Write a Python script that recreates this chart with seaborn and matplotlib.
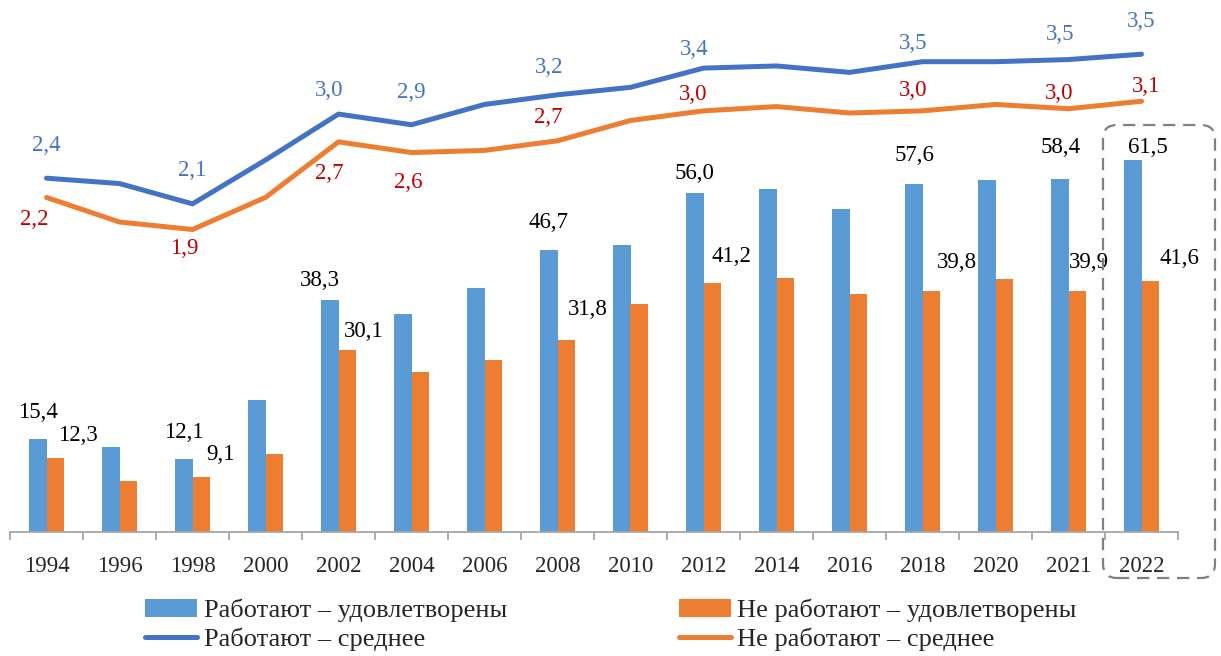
import numpy as np
import pandas as pd
import matplotlib
matplotlib.use("Agg")
import matplotlib.pyplot as plt
import seaborn as sns
from matplotlib.patches import FancyBboxPatch, Patch
from matplotlib.lines import Line2D
from matplotlib.transforms import IdentityTransform

# ---------------- data ----------------
years = ["1994", "1996", "1998", "2000", "2002", "2004", "2006", "2008",
         "2010", "2012", "2014", "2016", "2018", "2020", "2021", "2022"]
work_satisfied = [15.4, 14.1, 12.1, 21.9, 38.3, 36.1, 40.4, 46.7,
                  47.4, 56.0, 56.7, 53.5, 57.6, 58.3, 58.4, 61.5]
nowork_satisfied = [12.3, 8.4, 9.1, 12.9, 30.1, 26.5, 28.5, 31.8,
                    37.8, 41.2, 42.1, 39.4, 39.8, 41.9, 39.9, 41.6]
work_mean = [2.38, 2.33, 2.14, 2.55, 2.98, 2.88, 3.07, 3.16,
             3.23, 3.41, 3.43, 3.37, 3.47, 3.47, 3.49, 3.54]
nowork_mean = [2.20, 1.97, 1.90, 2.20, 2.72, 2.62, 2.64, 2.73,
               2.92, 3.01, 3.05, 2.99, 3.01, 3.07, 3.03, 3.10]
bar_label_years = ["1994", "1998", "2002", "2008", "2012", "2018", "2021", "2022"]
line_label_years = ["1994", "1998", "2002", "2004", "2008", "2012", "2018", "2021", "2022"]

s_work_sat = "Работают – удовлетворены"
s_nowork_sat = "Не работают – удовлетворены"
s_work_mean = "Работают – среднее"
s_nowork_mean = "Не работают – среднее"

# ---------------- styles ----------------
C_BAR_BLUE = "#5B9BD5"
C_BAR_ORANGE = "#ED7D31"
C_LINE_BLUE = "#4472C4"
C_LINE_ORANGE = "#ED7D31"
C_TXT_BLUE = "#4472C4"
C_TXT_RED = "#C00000"
C_AXIS = "#A6A6A6"

# label offsets in pixels (dx, dy) relative to the anchor
blue_bar_off = {"1994": (0, 26), "1998": (0, 26), "2002": (-10, 20), "2008": (0, 27),
                "2012": (0, 20), "2018": (1, 28), "2021": (1, 31), "2022": (15, 13)}
orange_bar_off = {"1994": (23, 22), "1998": (19, 22), "2002": (16, 19), "2008": (22, 30),
                  "2012": (19, 26), "2018": (26, 29), "2021": (12, 28), "2022": (29, 22)}
blue_line_off = {"1994": (0, 33), "1998": (0, 33), "2002": (-9, 24), "2004": (0, 32),
                 "2008": (-8, 27), "2012": (-9, 19), "2018": (-9, 18), "2021": (-8, 25),
                 "2022": (0, 33)}
orange_line_off = {"1994": (-12, -22), "1998": (-8, -19), "2002": (-9, -32), "2004": (-3, -30),
                   "2008": (-9, 23), "2012": (-10, 16), "2018": (-9, 20), "2021": (-9, 15),
                   "2022": (5, 15)}

sns.set_theme(style="white")
plt.rcParams["font.family"] = ["Liberation Serif", "DejaVu Serif"]
FS = 16.5
FS_LEG = 19

W, H, DPI = 1221, 656, 100
fig = plt.figure(figsize=(W / DPI, H / DPI), dpi=DPI)
ax_left, ax_right, ax_top, ax_bottom = 10, 1178, 20, 532
ax = fig.add_axes([ax_left / W, 1 - ax_bottom / H,
                   (ax_right - ax_left) / W, (ax_bottom - ax_top) / H])

df = pd.DataFrame({
    "year": years * 2,
    "value": work_satisfied + nowork_satisfied,
    "series": [s_work_sat] * len(years) + [s_nowork_sat] * len(years),
})
sns.barplot(data=df, x="year", y="value", hue="series", order=years,
            hue_order=[s_work_sat, s_nowork_sat],
            palette=[C_BAR_BLUE, C_BAR_ORANGE], width=0.48, dodge=True,
            saturation=1, ax=ax, legend=False, edgecolor="none")
ax.set_xlim(-0.5, len(years) - 0.5)
ax.set_ylim(0, 84.7)
ax.set_xlabel("")
ax.set_ylabel("")
ax.set_yticks([])
for s in ["top", "left", "right"]:
    ax.spines[s].set_visible(False)
ax.spines["bottom"].set_color(C_AXIS)
ax.spines["bottom"].set_linewidth(1.3)

ax.set_xticks(np.arange(len(years) + 1) - 0.5)
ax.set_xticklabels([])
ax.tick_params(axis="x", which="major", length=6, width=1.3, color=C_AXIS,
               direction="out", bottom=True)
ax.set_xticks(np.arange(len(years)), minor=True)
ax.set_xticklabels(years, minor=True, fontsize=FS)
ax.tick_params(axis="x", which="minor", length=0, pad=17, labelsize=FS)

# bar labels
for i, y in enumerate(years):
    if y in bar_label_years:
        dx, dy = blue_bar_off[y]
        ax.annotate(f"{work_satisfied[i]:.1f}".replace(".", ","),
                    (i - 0.12, work_satisfied[i]), xytext=(dx, dy),
                    textcoords="offset pixels", ha="center", va="center",
                    fontsize=FS, color="black")
        dx, dy = orange_bar_off[y]
        ax.annotate(f"{nowork_satisfied[i]:.1f}".replace(".", ","),
                    (i + 0.12, nowork_satisfied[i]), xytext=(dx, dy),
                    textcoords="offset pixels", ha="center", va="center",
                    fontsize=FS, color="black")

# lines on secondary axis
ax2 = ax.twinx()
ax2.set_ylim(-0.93, 3.86)
xs = np.arange(len(years))
sns.lineplot(x=xs, y=work_mean, ax=ax2, color=C_LINE_BLUE, linewidth=3.6,
             legend=False, solid_capstyle="round")
sns.lineplot(x=xs, y=nowork_mean, ax=ax2, color=C_LINE_ORANGE, linewidth=3.6,
             legend=False, solid_capstyle="round")
ax2.set_xlim(-0.5, len(years) - 0.5)
ax2.set_yticks([])
ax2.set_ylabel("")
for s in ["top", "left", "right", "bottom"]:
    ax2.spines[s].set_visible(False)

for i, y in enumerate(years):
    if y in line_label_years:
        dx, dy = blue_line_off[y]
        ax2.annotate(f"{work_mean[i]:.1f}".replace(".", ","), (i, work_mean[i]),
                     xytext=(dx, dy), textcoords="offset pixels", ha="center",
                     va="center", fontsize=FS, color=C_TXT_BLUE)
        dx, dy = orange_line_off[y]
        ax2.annotate(f"{nowork_mean[i]:.1f}".replace(".", ","), (i, nowork_mean[i]),
                     xytext=(dx, dy), textcoords="offset pixels", ha="center",
                     va="center", fontsize=FS, color=C_TXT_RED)

# dashed rounded highlight box around 2022
box = FancyBboxPatch((1103, H - 578), 112, 453,
                     boxstyle="round,pad=0,rounding_size=14",
                     transform=IdentityTransform(), fill=False,
                     edgecolor="#808080", linewidth=1.6, linestyle=(0, (5.5, 3.5)))
fig.add_artist(box)

# legend
handles = [Patch(facecolor=C_BAR_BLUE, edgecolor="none"),
           Line2D([0], [0], color=C_LINE_BLUE, linewidth=3.6, solid_capstyle="round"),
           Patch(facecolor=C_BAR_ORANGE, edgecolor="none"),
           Line2D([0], [0], color=C_LINE_ORANGE, linewidth=3.6, solid_capstyle="round")]
labels = [s_work_sat, s_work_mean, s_nowork_sat, s_nowork_mean]
fig.legend(handles, labels, ncol=2, loc="upper left",
           bbox_to_anchor=(145 / W, 1 - 599 / H), frameon=False, fontsize=FS_LEG,
           borderpad=0, borderaxespad=0, handlelength=1.97, handleheight=0.68,
           handletextpad=0.26, columnspacing=6.5, labelspacing=0.2)

fig.savefig("out.png", dpi=DPI, facecolor="white")
